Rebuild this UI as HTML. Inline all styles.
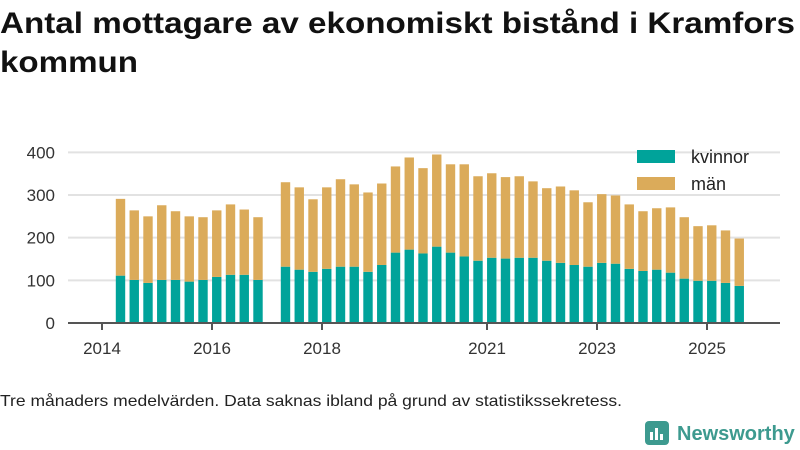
<!DOCTYPE html>
<html><head><meta charset="utf-8"><style>
body{margin:0;background:#fff;width:800px;height:450px;overflow:hidden}
svg{display:block;font-family:"Liberation Sans",sans-serif}
</style></head><body>
<svg id="chart" width="800" height="450" viewBox="0 0 800 450">
<text x="0" y="33" font-size="30" font-weight="bold" fill="#111" textLength="795" lengthAdjust="spacingAndGlyphs">Antal mottagare av ekonomiskt bistånd i Kramfors</text>
<text x="0" y="72" font-size="30" font-weight="bold" fill="#111" textLength="138" lengthAdjust="spacingAndGlyphs">kommun</text>
<g id="grid"></g><g id="bars"></g><g id="axis"></g>
<g>
<rect x="637" y="150" width="38" height="13" fill="#00a39a"/>
<text x="691" y="163" font-size="18" fill="#222">kvinnor</text>
<rect x="637" y="177" width="38" height="13" fill="#dbab5a"/>
<text x="691" y="190" font-size="18" fill="#222">män</text>
</g>
<text x="0" y="406" font-size="16" fill="#222" textLength="622" lengthAdjust="spacingAndGlyphs">Tre månaders medelvärden. Data saknas ibland på grund av statistikssekretess.</text>
<g>
<rect x="645" y="421" width="24" height="24" rx="4" fill="#3d9a8f"/>
<rect x="650" y="432" width="3" height="8" fill="#fff"/><rect x="655" y="428" width="3" height="12" fill="#fff"/><rect x="660" y="434" width="3" height="6" fill="#fff"/>
<text x="677" y="440" font-size="20" font-weight="bold" fill="#3d9a8f">Newsworthy</text>
</g>
</svg>
<script>
const quarters=["2014Q2","2014Q3","2014Q4","2015Q1","2015Q2","2015Q3","2015Q4","2016Q1","2016Q2","2016Q3","2016Q4","2017Q1","2017Q2","2017Q3","2017Q4","2018Q1","2018Q2","2018Q3","2018Q4","2019Q1","2019Q2","2019Q3","2019Q4","2020Q1","2020Q2","2020Q3","2020Q4","2021Q1","2021Q2","2021Q3","2021Q4","2022Q1","2022Q2","2022Q3","2022Q4","2023Q1","2023Q2","2023Q3","2023Q4","2024Q1","2024Q2","2024Q3","2024Q4","2025Q1","2025Q2","2025Q3"];
const kvinnor=[111,101,94,101,101,97,101,108,113,113,101,null,132,125,120,127,132,132,120,136,165,172,163,179,165,156,146,153,151,153,153,146,141,136,132,141,139,127,122,125,118,104,99,99,94,87];
const man=[180,163,156,175,161,153,147,156,165,153,147,null,198,193,170,191,205,193,186,191,202,216,200,216,207,216,198,198,191,191,179,170,179,175,151,161,160,151,140,144,153,144,128,130,123,111];
const yTicks=[0,100,200,300,400];
const xTickYears=[2014,2016,2018,2021,2023,2025];
const NS="http://www.w3.org/2000/svg";
const y=v=>323-v*0.4266;
const xYear=yr=>102+(yr-2014)*55;
const xQ=i=>120.5+i*13.75;
const grid=document.getElementById('grid'),bars=document.getElementById('bars'),axis=document.getElementById('axis');
function mk(tag,attrs,parent){const e=document.createElementNS(NS,tag);for(const k in attrs)e.setAttribute(k,attrs[k]);parent.appendChild(e);return e;}
yTicks.forEach(t=>{
 if(t>0){const l=mk('line',{x1:68,x2:780,y1:y(t),y2:y(t),stroke:'#e2e2e2','stroke-width':2},grid);
 
 }
 const tx=mk('text',{x:55,y:y(t)+6,'font-size':17,fill:'#333','text-anchor':'end'},grid);tx.textContent=t;
 
 
});
quarters.forEach((q,i)=>{
 if(kvinnor[i]==null)return;
 const cx=xQ(i);
 const r1=mk('rect',{x:cx-4.7,y:y(kvinnor[i]),width:9.4,height:y(0)-y(kvinnor[i]),fill:'#00a39a'},bars);
 
 
 const tot=kvinnor[i]+man[i];
 const r2=mk('rect',{x:cx-4.7,y:y(tot),width:9.4,height:y(kvinnor[i])-y(tot),fill:'#dbab5a'},bars);
 
 
});
const ax=mk('line',{x1:68,x2:780,y1:323,y2:323,stroke:'#555','stroke-width':2},axis);


xTickYears.forEach(yr=>{
 const t=mk('line',{x1:xYear(yr),x2:xYear(yr),y1:323,y2:330,stroke:'#555','stroke-width':2},axis);
 
 
 const tx=mk('text',{x:xYear(yr),y:354,'font-size':17,fill:'#333','text-anchor':'middle'},axis);tx.textContent=yr;
 
 
});
</script>
</body></html>
